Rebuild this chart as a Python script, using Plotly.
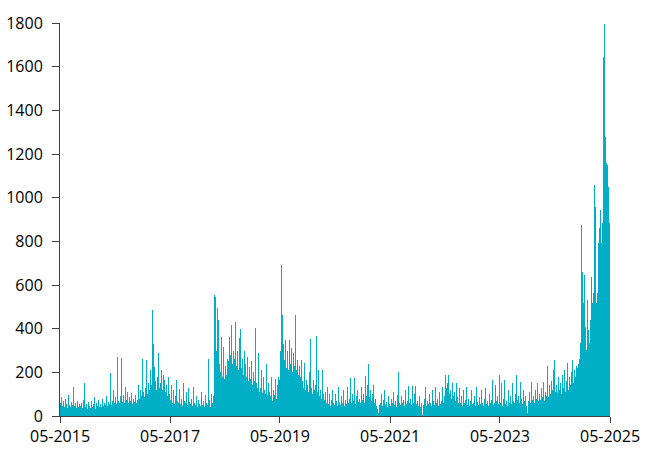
import pandas as pd
import plotly.graph_objects as go

# Values, one per pixel column (about 6.6 days each), May 2015 -> May 2025
values = [
    60, 85, 45, 70, 40, 80, 55, 35, 96, 50,
    40, 65, 50, 134, 45, 60, 35, 70, 40, 55,
    45, 60, 35, 75, 150, 40, 55, 30, 65, 45,
    35, 70, 40, 55, 85, 30, 60, 45, 75, 40,
    55, 40, 80, 45, 60, 50, 90, 45, 65, 55,
    195, 50, 70, 120, 60, 85, 55, 272, 70, 60,
    90, 264, 65, 95, 60, 134, 75, 110, 60, 85,
    70, 104, 55, 80, 65, 95, 60, 75, 142, 80,
    120, 90, 260, 110, 85, 130, 257, 100, 150, 120,
    210, 140, 486, 330, 226, 160, 120, 180, 287, 130,
    150, 210, 120, 190, 165, 110, 140, 90, 180, 100,
    75, 140, 60, 120, 55, 90, 165, 70, 60, 125,
    55, 80, 45, 150, 70, 60, 110, 50, 130, 65,
    55, 80, 45, 134, 60, 50, 90, 40, 75, 55,
    45, 111, 50, 70, 40, 95, 60, 50, 260, 75,
    40, 100, 60, 90, 554, 547, 300, 493, 440, 240,
    200, 363, 180, 318, 170, 230, 190, 260, 250, 363,
    280, 417, 240, 300, 260, 432, 230, 300, 210, 355,
    400, 220, 260, 190, 300, 240, 180, 272, 160, 226,
    170, 250, 140, 200, 160, 401, 150, 130, 287, 110,
    130, 210, 105, 180, 120, 100, 240, 95, 150, 110,
    90, 180, 70, 120, 95, 170, 80, 140, 180, 165,
    300, 692, 463, 330, 256, 348, 220, 300, 210, 348,
    240, 310, 200, 290, 230, 463, 210, 256, 190, 230,
    180, 256, 160, 130, 241, 120, 165, 140, 110, 200,
    351, 130, 100, 165, 120, 140, 366, 110, 210, 90,
    120, 80, 210, 100, 73, 110, 60, 135, 55, 100,
    45, 73, 120, 60, 50, 100, 70, 45, 135, 60,
    50, 90, 60, 120, 45, 75, 55, 134, 60, 80,
    172, 60, 100, 70, 172, 55, 90, 120, 65, 80,
    60, 134, 75, 100, 60, 183, 90, 140, 237, 85,
    120, 70, 100, 142, 60, 80, 45, 30, 12, 50,
    60, 100, 45, 75, 120, 50, 65, 40, 90, 55,
    45, 80, 60, 110, 50, 70, 40, 95, 200, 60,
    50, 90, 60, 75, 45, 120, 55, 70, 137, 60,
    80, 50, 137, 60, 100, 137, 55, 70, 45, 90,
    40, 60, 3, 50, 80, 134, 45, 70, 55, 100,
    60, 45, 120, 70, 50, 134, 60, 80, 45, 110,
    55, 70, 134, 60, 90, 188, 127, 150, 188, 100,
    120, 80, 150, 90, 110, 70, 150, 85, 60, 130,
    58, 90, 45, 120, 60, 75, 134, 50, 80, 45,
    70, 120, 55, 60, 90, 45, 134, 65, 50, 85,
    55, 120, 60, 45, 80, 130, 55, 70, 45, 100,
    60, 75, 165, 50, 60, 140, 70, 90, 55, 188,
    60, 150, 45, 80, 165, 55, 70, 45, 120, 60,
    90, 55, 150, 70, 60, 100, 188, 75, 90, 60,
    157, 80, 55, 120, 70, 90, 45, 12, 70, 110,
    60, 157, 75, 90, 60, 120, 80, 150, 70, 100,
    75, 130, 85, 157, 70, 110, 90, 229, 85, 140,
    100, 160, 120, 210, 257, 110, 140, 104, 180, 120,
    150, 100, 190, 130, 210, 110, 160, 241, 120, 180,
    140, 200, 257, 150, 210, 180, 230, 218, 240, 260,
    333, 875, 661, 516, 646, 409, 302, 531, 394, 333,
    440, 638, 516, 562, 1058, 959, 516, 562, 791, 860,
    944, 791, 883, 1646, 1795, 1280, 1158, 1150, 1050, 883,
]

start_date = "2015-05-01"
end_date = "2025-05-01"
tick_dates = ["2015-05-01", "2017-05-01", "2019-05-01", "2021-05-01", "2023-05-01", "2025-05-01"]
tick_labels = ["05-2015", "05-2017", "05-2019", "05-2021", "05-2023", "05-2025"]
y_ticks = [0, 200, 400, 600, 800, 1000, 1200, 1400, 1600, 1800]

edges = pd.date_range(start_date, end_date, periods=len(values) + 1)
step = edges[1] - edges[0]
dates = edges[:-1] + step / 2

fig = go.Figure(
    go.Bar(
        x=dates,
        y=values,
        marker=dict(color="#00AFC6", line=dict(width=0)),
        width=step.total_seconds() * 1000,
    )
)

font = dict(family="Open Sans, Liberation Sans, sans-serif", size=16, color="#000000")

fig.update_layout(
    width=655,
    height=458,
    margin=dict(l=60, r=45, t=23, b=42, autoexpand=False),
    paper_bgcolor="white",
    plot_bgcolor="white",
    showlegend=False,
    bargap=0,
    font=font,
)
fig.update_xaxes(
    type="date",
    range=[start_date, end_date],
    tickmode="array",
    tickvals=tick_dates,
    ticktext=tick_labels,
    ticks="outside",
    ticklen=6,
    tickcolor="#404040",
    showline=True,
    linecolor="#404040",
    linewidth=1.3,
    showgrid=False,
    zeroline=False,
    tickfont=font,
    automargin=False,
)
fig.update_yaxes(
    range=[0, 1800],
    tickmode="array",
    tickvals=y_ticks,
    ticks="outside",
    ticklen=7,
    tickcolor="#404040",
    showline=True,
    linecolor="#404040",
    linewidth=1,
    showgrid=False,
    zeroline=False,
    tickfont=font,
    ticklabelstandoff=6,
    automargin=False,
)

fig.write_html(
    "out.html",
    config={"displayModeBar": False},
    post_script="document.body.style.margin='0';",
)
